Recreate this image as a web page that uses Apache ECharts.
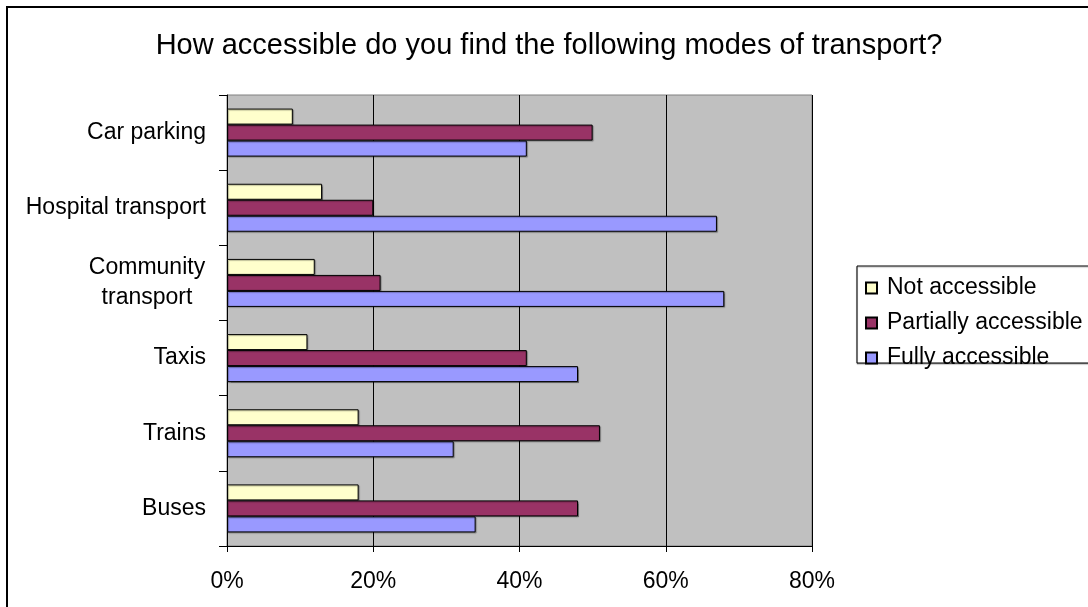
<!DOCTYPE html>
<html>
<head>
<meta charset="utf-8">
<title>How accessible do you find the following modes of transport?</title>
<script src="https://cdn.jsdelivr.net/npm/echarts@6/dist/echarts.min.js"></script>
<style>
  html, body { margin: 0; padding: 0; background: #fff; }
  #chart { width: 1088px; height: 607px; }
</style>
</head>
<body>
<div id="chart"></div>
<script>
// Transport modes, listed bottom to top as they appear on the category axis
var categories = ['Buses', 'Trains', 'Taxis', 'Community transport', 'Hospital transport', 'Car parking'];

// Share of respondents (%) per mode
var notAccessible       = [18, 18, 11, 12, 13, 9];
var partiallyAccessible = [48, 51, 41, 21, 20, 50];
var fullyAccessible     = [34, 31, 48, 68, 67, 41];

var xTicks = [0, 20, 40, 60, 80];

var FONT = 'Arial, "Liberation Sans", sans-serif';
var LABEL_SIZE = 23;

var chart = echarts.init(document.getElementById('chart'), null, { renderer: 'canvas' });

function barSeries(name, data, color) {
  return {
    name: name,
    type: 'bar',
    data: data,
    barWidth: 16,
    barGap: '0%',
    z: 2,
    itemStyle: {
      color: color,
      borderColor: '#000',
      borderWidth: 1,
      shadowColor: 'rgba(0,0,0,0.3)',
      shadowOffsetX: 1,
      shadowOffsetY: 1,
      shadowBlur: 1
    }
  };
}

chart.setOption({
  animation: false,
  backgroundColor: '#fff',
  title: {
    text: 'How accessible do you find the following modes of transport?',
    left: 544,
    textAlign: 'center',
    top: 26,
    textStyle: { fontFamily: FONT, fontSize: 29, fontWeight: 'normal', color: '#000' }
  },
  graphic: [
    {
      type: 'rect',
      z: -10,
      silent: true,
      shape: { x: 7, y: 7, width: 1200, height: 700 },
      style: { fill: 'none', stroke: '#000', lineWidth: 2 }
    },
    {
      type: 'rect',
      z: 0,
      silent: true,
      shape: { x: 857, y: 266, width: 300, height: 97 },
      style: { fill: '#fff', stroke: '#000', lineWidth: 1, shadowColor: 'rgba(0,0,0,0.3)', shadowOffsetY: 1, shadowBlur: 1 }
    }
  ],
  legend: {
    orient: 'vertical',
    left: 865,
    top: 275,
    padding: 0,
    z: 5,
    itemWidth: 11,
    itemHeight: 11,
    itemGap: 9,
    icon: 'rect',
    data: ['Not accessible', 'Partially accessible', 'Fully accessible'],
    textStyle: { fontFamily: FONT, fontSize: LABEL_SIZE, color: '#000', lineHeight: 26, padding: [0, 0, 0, 5] }
  },
  grid: {
    left: 227,
    top: 95,
    right: 276,
    bottom: 61,
    show: true,
    backgroundColor: '#C0C0C0',
    borderColor: '#808080',
    borderWidth: 1
  },
  xAxis: {
    type: 'value',
    min: xTicks[0],
    max: xTicks[xTicks.length - 1],
    interval: 20,
    axisLine: { show: true, lineStyle: { color: '#000', width: 1 } },
    axisTick: { show: true, length: 6, lineStyle: { color: '#000' } },
    splitLine: { show: true, lineStyle: { color: '#000', width: 1 } },
    axisLabel: {
      margin: 24,
      fontFamily: FONT,
      fontSize: LABEL_SIZE,
      color: '#000',
      formatter: function (v) { return v + '%'; }
    }
  },
  yAxis: {
    type: 'category',
    data: categories,
    axisLine: { show: true, lineStyle: { color: '#000', width: 1 } },
    axisTick: { show: true, length: 8, lineStyle: { color: '#000' } },
    axisLabel: {
      margin: 21,
      fontFamily: FONT,
      fontSize: LABEL_SIZE,
      color: '#000',
      lineHeight: 30,
      formatter: function (v) {
        if (v === 'Community transport') {
          return '{c|Community}\n{c|transport}';
        }
        return v;
      },
      rich: {
        c: { width: 118, align: 'center', fontFamily: FONT, fontSize: LABEL_SIZE, color: '#000', lineHeight: 30 }
      }
    }
  },
  // Within each group the first series sits at the top
  series: [
    barSeries('Not accessible', notAccessible, '#FFFFCC'),
    barSeries('Partially accessible', partiallyAccessible, '#993366'),
    barSeries('Fully accessible', fullyAccessible, '#9999FF')
  ]
});
</script>
</body>
</html>
